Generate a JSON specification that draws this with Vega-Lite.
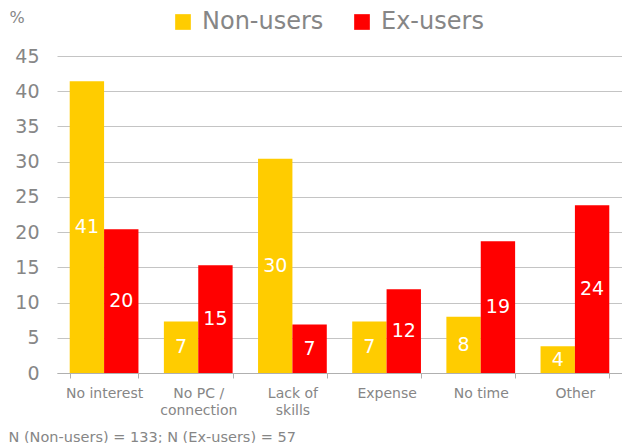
{
  "$schema": "https://vega.github.io/schema/vega-lite/v6.json",
  "autosize": {"type": "none"},
  "padding": {"left": 57, "top": 56, "right": 0, "bottom": 70},
  "width": 565,
  "height": 317,
  "background": "white",
  "config": {
    "font": "DejaVu Sans",
    "view": {"stroke": null},
    "axis": {
      "labelFont": "DejaVu Sans",
      "titleFont": "DejaVu Sans",
      "labelColor": "#868686",
      "titleColor": "#868686",
      "domainColor": "#B0B0B0",
      "tickColor": "#B0B0B0",
      "gridColor": "#C4C4C4"
    },
    "axisY": {
      "grid": true,
      "domain": false,
      "ticks": false,
      "tickSize": 0,
      "labelFontSize": 19,
      "labelPadding": 18,
      "titleAngle": 0,
      "titleX": -48,
      "titleY": -34,
      "titleAlign": "left",
      "titleBaseline": "alphabetic",
      "titleFontSize": 16,
      "titleFontWeight": "normal"
    },
    "axisX": {
      "grid": false,
      "domain": true,
      "ticks": true,
      "tickSize": 5,
      "tickWidth": 1,
      "tickBand": "extent",
      "labelAngle": 0,
      "labelFontSize": 14,
      "labelPadding": 8,
      "labelBaseline": "top",
      "labelLineHeight": 17.5,
      "titleX": -49,
      "titleY": 68,
      "titleAlign": "left",
      "titleBaseline": "alphabetic",
      "titleFontSize": 14.5,
      "titleFontWeight": "normal"
    },
    "legend": {
      "orient": "none",
      "legendX": 114,
      "legendY": -46,
      "direction": "horizontal",
      "symbolType": "square",
      "symbolSize": 246,
      "symbolStrokeWidth": 0,
      "labelFontSize": 24,
      "labelFont": "DejaVu Sans",
      "labelColor": "#868686",
      "labelOffset": 7,
      "columnPadding": 26,
      "padding": 0
    }
  },
  "data": {
    "values": [
      {"reason": "No interest", "group": "Non-users", "pct": 41.4},
      {"reason": "No interest", "group": "Ex-users", "pct": 20.4},
      {"reason": "No PC / connection", "group": "Non-users", "pct": 7.3},
      {"reason": "No PC / connection", "group": "Ex-users", "pct": 15.3},
      {"reason": "Lack of skills", "group": "Non-users", "pct": 30.4},
      {"reason": "Lack of skills", "group": "Ex-users", "pct": 6.9},
      {"reason": "Expense", "group": "Non-users", "pct": 7.3},
      {"reason": "Expense", "group": "Ex-users", "pct": 11.9},
      {"reason": "No time", "group": "Non-users", "pct": 8.0},
      {"reason": "No time", "group": "Ex-users", "pct": 18.7},
      {"reason": "Other", "group": "Non-users", "pct": 3.8},
      {"reason": "Other", "group": "Ex-users", "pct": 23.8}
    ]
  },
  "encoding": {
    "x": {
      "field": "reason",
      "type": "nominal",
      "sort": ["No interest", "No PC / connection", "Lack of skills", "Expense", "No time", "Other"],
      "scale": {"paddingInner": 0.27, "paddingOuter": 0.135},
      "title": "N (Non-users) = 133; N (Ex-users) = 57",
      "axis": {
        "ticks": true,
        "tickBand": "extent",
        "labelExpr": "datum.value == 'No PC / connection' ? ['No PC /', 'connection'] : datum.value == 'Lack of skills' ? ['Lack of', 'skills'] : datum.value"
      }
    },
    "xOffset": {
      "field": "group",
      "type": "nominal",
      "sort": ["Non-users", "Ex-users"],
      "scale": {"paddingInner": 0, "paddingOuter": 0}
    },
    "y": {
      "field": "pct",
      "type": "quantitative",
      "title": "%",
      "scale": {"domain": [0, 45]},
      "axis": {"values": [0, 5, 10, 15, 20, 25, 30, 35, 40, 45]}
    }
  },
  "layer": [
    {
      "mark": {"type": "bar"},
      "encoding": {
        "color": {
          "field": "group",
          "type": "nominal",
          "sort": ["Non-users", "Ex-users"],
          "scale": {"domain": ["Non-users", "Ex-users"], "range": ["#FFCC00", "#FF0000"]},
          "legend": {"title": null}
        }
      }
    },
    {
      "transform": [{"calculate": "datum.pct / 2", "as": "mid"}],
      "mark": {"type": "text", "color": "white", "fontSize": 19, "baseline": "middle", "align": "center"},
      "encoding": {
        "y": {
          "field": "mid",
          "type": "quantitative",
          "title": "%",
          "scale": {"domain": [0, 45]},
          "axis": {"values": [0, 5, 10, 15, 20, 25, 30, 35, 40, 45]}
        },
        "text": {"field": "pct", "type": "quantitative", "format": ".0f"}
      }
    }
  ]
}
